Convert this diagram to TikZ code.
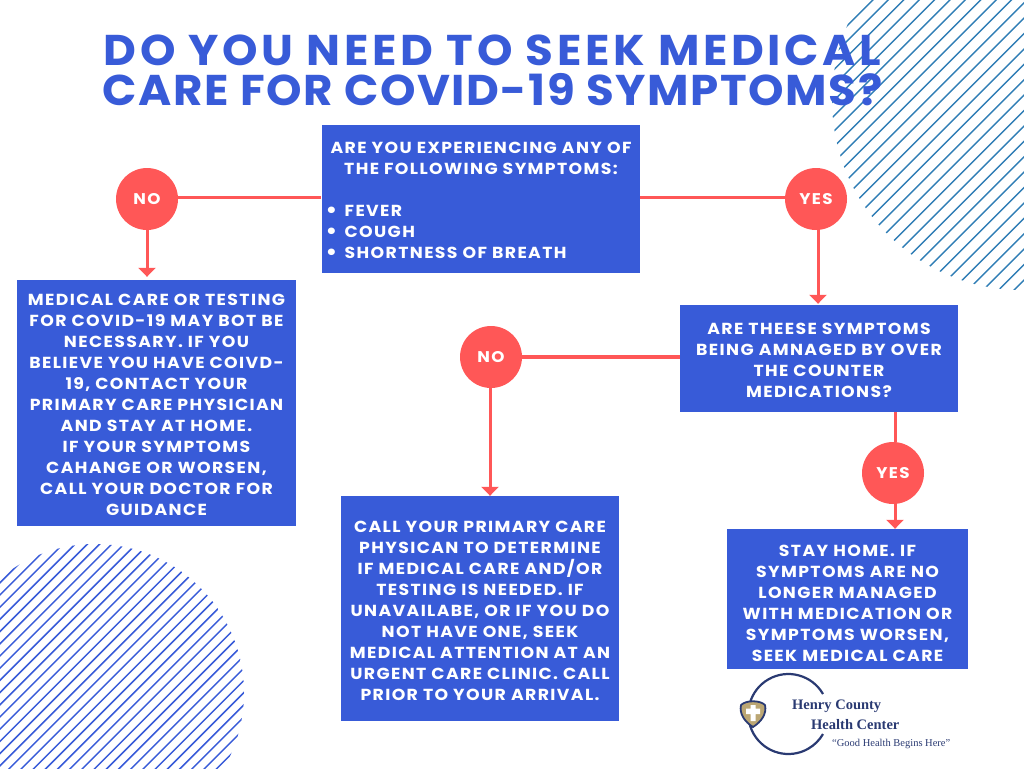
\documentclass[tikz,border=0pt]{standalone}
\usepackage{fontspec}
\setmainfont{Poppins}
\newfontfamily\headfonta[LetterSpace=8.5,FakeStretch=1.05]{Poppins}
\newfontfamily\headfontb[LetterSpace=3.7,FakeStretch=1.05]{Poppins}
\newfontfamily\bodyfont[LetterSpace=8.6,FakeStretch=1.08]{Poppins}
\newfontfamily\logofont{Liberation Serif}
\usetikzlibrary{arrows.meta}
\definecolor{boxblue}{HTML}{385BD8}
\definecolor{coral}{HTML}{FF5757}
\definecolor{teal}{HTML}{2F7DB5}
\definecolor{navy}{HTML}{2A3A72}
\definecolor{gold}{HTML}{BBA673}
\newcommand{\listdot}{\hspace{-2.5pt}\raisebox{-1.2pt}{\scalebox{1.35}{•}}\hspace{7.5pt}}
\newcommand{\topgap}[1]{\rule{0pt}{#1pt}}
\tikzset{
  infobox/.style={fill=boxblue,text=white,inner sep=0pt,align=center,
    font=\bodyfont\bfseries\fontsize{16}{21}\selectfont},
  badge/.style={circle,fill=coral,text=white,minimum size=62pt,inner sep=0pt,
    font=\bodyfont\bfseries\fontsize{15.5}{18}\selectfont},
  link/.style={draw=coral,line width=3pt},
  linkarrow/.style={link,-{Triangle[width=17pt,length=9pt]}},
  hatchline/.style={line width=1.4pt}
}
\begin{document}
\begin{tikzpicture}[x=1pt,y=-1pt]
\useasboundingbox (0,0) rectangle (1024,768);

% hatched discs in two corners
\begin{scope}
  \clip (1022,100) circle[radius=190];
  \foreach \k in {0,...,36}
    \draw[teal,hatchline] (542+15.4*\k,300) -- ++(420,-420);
\end{scope}
\begin{scope}
  \clip (95,693) circle[radius=149];
  \foreach \k in {0,...,35}
    \draw[boxblue,hatchline,line width=1.5pt] (-289.5+12.2*\k,860) -- ++(400,-400);
\end{scope}

% heading
\node[text=boxblue,align=center,inner sep=0pt,
      font=\bfseries\fontsize{43}{40}\selectfont] (head) at (492.5,70)
  {\headfonta\bfseries DO YOU NEED TO SEEK MEDICAL\\\headfontb\bfseries CARE FOR COVID-19 SYMPTOMS?};

% question and advice boxes
\node[infobox,minimum width=318pt,minimum height=148pt] (q1) at (481,199)
  {\topgap{15.5}ARE YOU EXPERIENCING ANY OF\\THE FOLLOWING SYMPTOMS:\\ \mbox{}\\
   \makebox[306pt][l]{\listdot FEVER}\\
   \makebox[306pt][l]{\listdot COUGH}\\
   \makebox[306pt][l]{\listdot SHORTNESS OF BREATH}};
\node[infobox,minimum width=279pt,minimum height=246pt] (left) at (156.5,403)
  {\topgap{15.5}MEDICAL CARE OR TESTING\\FOR COVID-19 MAY BOT BE\\NECESSARY. IF YOU\\
   BELIEVE YOU HAVE COIVD-\\19, CONTACT YOUR\\PRIMARY CARE PHYSICIAN\\
   AND STAY AT HOME.\\IF YOUR SYMPTOMS\\CAHANGE OR WORSEN,\\
   CALL YOUR DOCTOR FOR\\GUIDANCE};
\node[infobox,minimum width=278pt,minimum height=107pt] (q2) at (819,358.5)
  {\topgap{15.5}ARE THEESE SYMPTOMS\\BEING AMNAGED BY OVER\\THE COUNTER\\MEDICATIONS?};
\node[infobox,minimum width=278pt,minimum height=225pt] (call) at (480,608.5)
  {\topgap{15.5}CALL YOUR PRIMARY CARE\\PHYSICAN TO DETERMINE\\IF MEDICAL CARE AND/OR\\
   TESTING IS NEEDED. IF\\UNAVAILABE, OR IF YOU DO\\NOT HAVE ONE, SEEK\\
   MEDICAL ATTENTION AT AN\\URGENT CARE CLINIC. CALL\\PRIOR TO YOUR ARRIVAL.};
\node[infobox,minimum width=241pt,minimum height=140pt] (stay) at (847.5,599)
  {\topgap{19.5}STAY HOME. IF\\SYMPTOMS ARE NO\\LONGER MANAGED\\WITH MEDICATION OR\\
   SYMPTOMS WORSEN,\\SEEK MEDICAL CARE};

% answer badges
\node[badge] (no1) at (147,199) {\raisebox{-1pt}{NO}};
\node[badge] (yes1) at (816,199) {\raisebox{-1pt}{YES}};
\node[badge] (no2) at (491,357) {NO};
\node[badge] (yes2) at (893,473) {YES};

% connectors
\draw[link] ([yshift=2pt,xshift=-1pt]q1.west) -- ([yshift=2pt]no1.east);
\draw[link] ([yshift=2pt]q1.east) -- ([yshift=2pt]yes1.west);
\draw[link,line width=4pt] (q2.west |- no2.east) -- (no2.east);
\draw[linkarrow] (no1.south) -- ([yshift=3pt]no1.south |- left.north);
\draw[linkarrow] ([xshift=2pt]yes1.south) -- ([xshift=2pt,yshift=1pt]yes1.south |- q2.north);
\draw[linkarrow] ([xshift=-1pt]no2.south) -- ([xshift=-1pt,yshift=0pt]no2.south |- call.north);
\draw[link] ([xshift=2pt]yes2.north |- q2.south) -- ([xshift=2pt]yes2.north);
\draw[linkarrow] ([xshift=2pt]yes2.south) -- ([xshift=2pt,yshift=0pt]yes2.south |- stay.north);

% hospital logo
\draw[navy,line width=2.2pt] (823,694) arc[start angle=-30,end angle=-330,radius=40];
\filldraw[fill=gold,draw=navy,line width=1.8pt,line join=round]
  (741,705) .. controls (746,700) and (760,700) .. (765,705)
  .. controls (767,714) and (761,722) .. (753,727)
  .. controls (745,722) and (739,714) .. (741,705) -- cycle;
\fill[white] (750.5,705) rectangle (755.5,721) (746,708.5) rectangle (760,714);
\node[text=navy,anchor=west,inner sep=0pt,
      font=\logofont\bfseries\fontsize{14.5}{16}\selectfont] (logoa) at (792,706) {Henry County};
\node[text=navy,anchor=west,inner sep=0pt,
      font=\logofont\bfseries\fontsize{14.5}{16}\selectfont] (logob) at (811,725) {Health Center};
\node[text=navy,anchor=west,inner sep=0pt,
      font=\logofont\fontsize{10.5}{12}\selectfont] (logoc) at (832,744) {“Good Health Begins Here”};
\end{tikzpicture}
\end{document}
